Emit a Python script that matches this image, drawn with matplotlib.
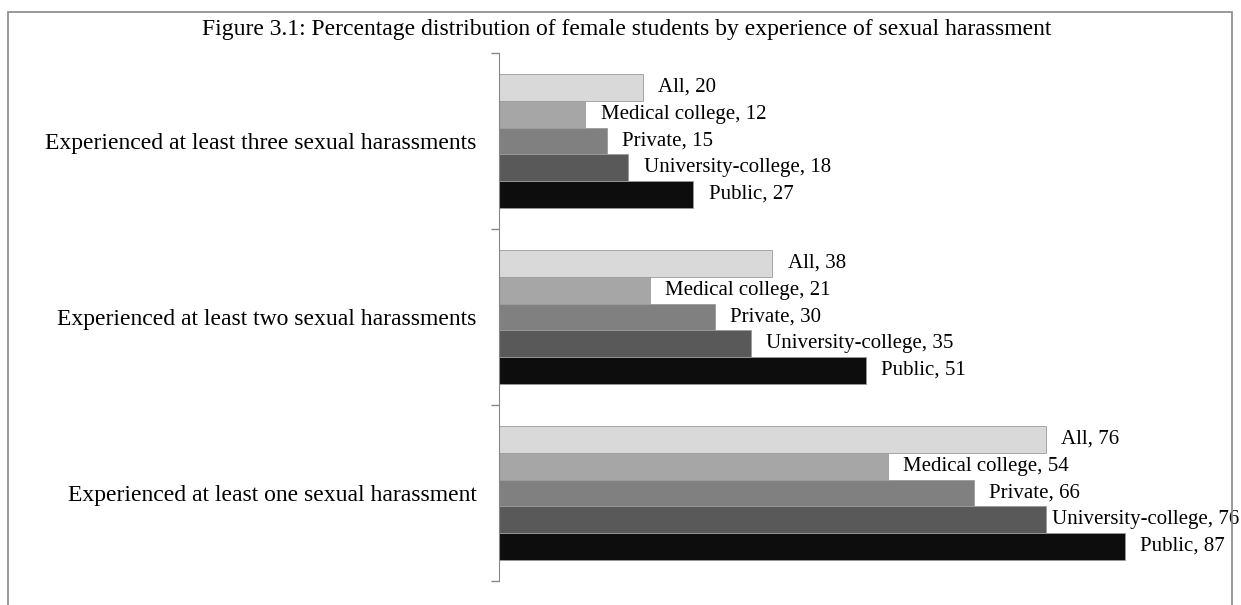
import matplotlib.pyplot as plt
import numpy as np
from matplotlib.patches import Rectangle

plt.rcParams['font.family'] = ['Liberation Serif', 'DejaVu Serif']

categories = ['Experienced at least one sexual harassment',
              'Experienced at least two sexual harassments',
              'Experienced at least three sexual harassments']
# series listed bottom-to-top within each group
series = ['Public', 'University-college', 'Private', 'Medical college', 'All']
values = {
    'Public':             [87, 51, 27],
    'University-college': [76, 35, 18],
    'Private':            [66, 30, 15],
    'Medical college':    [54, 21, 12],
    'All':                [76, 38, 20],
}
colors = ['#0d0d0d', '#595959', '#808080', '#a6a6a6', '#d9d9d9']

fig = plt.figure(figsize=(12.41, 6.05), dpi=100)
ax = fig.add_axes([0.402, 0.0397, 0.58, 0.8727])

y = np.arange(len(categories))
h = 0.152
labels = []
for i, (name, col) in enumerate(zip(series, colors)):
    pos = y + (i - 2) * h
    vals = values[name]
    ax.barh(pos, vals, height=h, color=col, edgecolor='#9a9a9a', linewidth=0.6)
    for p, v in zip(pos, vals):
        t = ax.annotate(f'{name}, {v}', (v, p), xytext=(11, 0), textcoords='offset points',
                        va='center', ha='left', fontsize=15)
        labels.append(t)

ax.set_xlim(0, 100)
ax.set_ylim(-0.5, 2.5)
ax.set_yticks(y)
ax.set_yticklabels(categories, fontsize=17)
ax.set_yticks([-0.5, 0.5, 1.5, 2.5], minor=True)
ax.tick_params(axis='y', which='major', length=0, pad=16)
ax.tick_params(axis='y', which='minor', length=6, width=1, color='#888888')
ax.set_xticks([])
for s in ['top', 'right', 'bottom']:
    ax.spines[s].set_visible(False)
ax.spines['left'].set_color('#888888')

fig.text(0.505, 1 - 30 / 605, 'Figure 3.1: Percentage distribution of female students by experience of sexual harassment',
         ha='center', va='center', fontsize=17)

# pull in any label that runs past the right edge
fig.canvas.draw()
r = fig.canvas.get_renderer()
W = fig.bbox.width
for t in labels:
    bb = t.get_window_extent(r)
    if bb.x1 > W - 2:
        dx = (bb.x1 - (W - 2)) * 72 / fig.dpi
        t.set_position((max(11 - dx, 1), 0))

# outer frame
fig.patches.append(Rectangle((8 / 1241, -0.01), 1224 / 1241, 1 - 12 / 605 + 0.01,
                             transform=fig.transFigure, fill=False,
                             edgecolor='#888888', linewidth=1.2))

fig.savefig('out.png', dpi=100)
